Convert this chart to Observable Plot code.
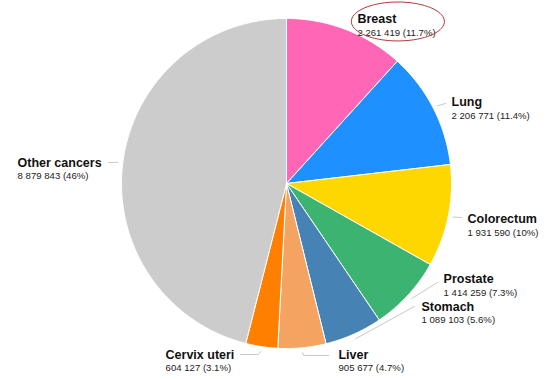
<!DOCTYPE html>
<html>
<head>
<meta charset="utf-8">
<script src="https://cdn.jsdelivr.net/npm/d3@7"></script>
<script src="https://cdn.jsdelivr.net/npm/@observablehq/plot@0.6"></script>
<style>
  html, body { margin: 0; padding: 0; background: #ffffff; }
  #chart svg { display: block; font-family: "Liberation Sans", Arial, sans-serif; }
</style>
</head>
<body>
<div id="chart"></div>
<script>
// ---- data ----
const categories = ["Breast", "Lung", "Colorectum", "Prostate", "Stomach", "Liver", "Cervix uteri", "Other cancers"];
const cases = [2261419, 2206771, 1931590, 1414259, 1089103, 905677, 604127, 8879843];
const sliceColors = ["#ff66b6", "#1e90ff", "#ffd700", "#3cb371", "#4682b4", "#f4a460", "#ff7f00", "#cccccc"];

// ---- label layout (pie units: radius = 1) ----
const labelText = [[0.430, 0.970], [1.000, 0.467], [1.097, -0.242], [0.952, -0.606], [0.818, -0.770], [0.315, -1.061], [-0.733, -1.061], [-1.630, 0.103]];
const leaderPath = [[], [[0.964, 0.485]], [[1.061, -0.206]], [[0.915, -0.600]], [[0.776, -0.745]], [[0.103, -1.042], [0.255, -1.042]], [[-0.170, -1.036], [-0.279, -1.036]], [[-1.079, 0.127]]];

// ---- derived ----
const total = d3.sum(cases);
const fmtNum = v => d3.format(",")(v).replace(/,/g, " ");
const fmtPct = v => d3.format(".1~f")(v * 100) + "%";

let acc = 0;
const slices = categories.map((name, i) => {
  const a0 = acc / total * 2 * Math.PI;
  acc += cases[i];
  const a1 = acc / total * 2 * Math.PI;
  return {name, value: cases[i], a0, a1, mid: (a0 + a1) / 2, i};
});

// polygon points for each slice (angle clockwise from 12 o'clock)
const slicePts = [];
for (const s of slices) {
  slicePts.push({name: s.name, x: 0, y: 0});
  const n = Math.max(2, Math.ceil((s.a1 - s.a0) / 0.01));
  for (let k = 0; k <= n; k++) {
    const a = s.a0 + (s.a1 - s.a0) * k / n;
    slicePts.push({name: s.name, x: Math.sin(a), y: Math.cos(a)});
  }
  slicePts.push({name: s.name, x: 0, y: 0});
}

const leaderPts = [];
slices.forEach((s, i) => {
  if (!leaderPath[i].length) return;
  leaderPts.push({id: s.name, x: 1.03 * Math.sin(s.mid), y: 1.03 * Math.cos(s.mid)});
  for (const [x, y] of leaderPath[i]) leaderPts.push({id: s.name, x, y});
});

const labels = slices.map((s, i) => ({
  name: s.name,
  x: labelText[i][0],
  y: labelText[i][1],
  sub: `${fmtNum(s.value)} (${fmtPct(s.value / total)})`
}));

// highlight ellipse around the Breast label
const ell = [];
const ecx = labelText[0][0] + 0.245, ecy = labelText[0][1] + 0.012;
for (let k = 0; k < 72; k++) {
  const t = k / 72 * 2 * Math.PI;
  ell.push({x: ecx + 0.282 * Math.cos(t), y: ecy + 0.118 * Math.sin(t)});
}

const chart = Plot.plot({
  width: 554,
  height: 379,
  margin: 0,
  style: {background: "#ffffff", fontFamily: "Liberation Sans, Arial, sans-serif"},
  x: {type: "linear", domain: [-1, 1], range: [121, 451], axis: null},
  y: {type: "linear", domain: [-1, 1], range: [348, 18], axis: null},
  color: {domain: categories, range: sliceColors},
  marks: [
    Plot.line(leaderPts, {x: "x", y: "y", z: "id", stroke: "#c8c8c8", strokeWidth: 1, curve: "linear"}),
    Plot.line(slicePts, {x: "x", y: "y", z: "name", fill: "name", stroke: "#ffffff", strokeWidth: 1, strokeLinejoin: "round", curve: "linear"}),
    Plot.text(labels, {x: "x", y: "y", text: "name", textAnchor: "start", lineAnchor: "bottom", fontSize: 12.5, fontWeight: "bold", fill: "#111111"}),
    Plot.text(labels, {x: "x", y: "y", text: "sub", textAnchor: "start", lineAnchor: "bottom", dy: 12.5, fontSize: 9.6, fill: "#222222"}),
    Plot.line(ell, {x: "x", y: "y", stroke: "#b03a3a", strokeWidth: 1, curve: "linear-closed"})
  ]
});
document.getElementById("chart").appendChild(chart);
</script>
</body>
</html>
